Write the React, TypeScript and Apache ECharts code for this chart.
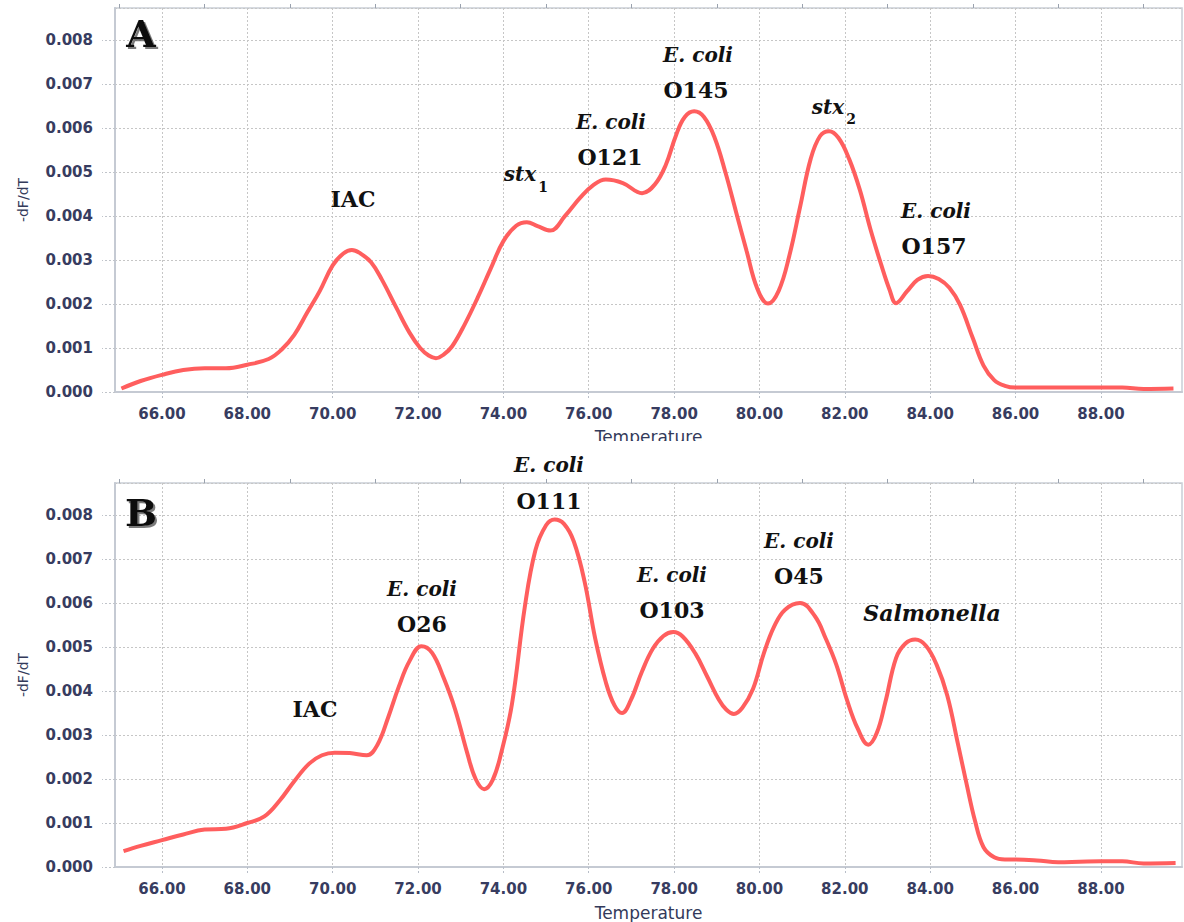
import React, { useEffect, useRef } from "react";
import * as echarts from "echarts";

// ---- Data ----
const tempA = [
  65.05, 65.5, 66.0, 66.5, 67.0, 67.5, 68.0, 68.5, 68.8, 69.1, 69.4, 69.7, 70.0, 70.25, 70.45, 70.65, 70.9,
  71.15, 71.5, 71.8, 72.05, 72.25, 72.42, 72.6, 72.8, 73.1, 73.4, 73.7, 74.0, 74.3, 74.55, 74.8, 75.1, 75.45,
  75.8, 76.1, 76.4, 76.8, 77.25, 77.55, 77.8, 78.05, 78.25, 78.47, 78.7, 78.95, 79.2, 79.45, 79.7, 79.95,
  80.2, 80.45, 80.7, 80.95, 81.2, 81.42, 81.63, 81.85, 82.1, 82.35, 82.6, 82.85, 83.05, 83.2, 83.45, 83.7,
  83.95, 84.2, 84.45, 84.7, 85.0, 85.25, 85.5, 85.75, 86.0, 86.5, 87.0, 87.5, 88.0, 88.5, 89.0, 89.7,
];
const dfdtA = [
  0.00008, 0.00025, 0.00039, 0.0005, 0.00054, 0.00054, 0.00062, 0.00075, 0.00096, 0.0013, 0.0018, 0.0023,
  0.00288, 0.00315, 0.00323, 0.00315, 0.00295, 0.00256, 0.0019, 0.00135, 0.001, 0.00083, 0.00077, 0.00085,
  0.00104, 0.00155, 0.00215, 0.0028, 0.00343, 0.00378, 0.00386, 0.00377, 0.00367, 0.00401, 0.00442, 0.0047,
  0.00483, 0.00475, 0.00452, 0.00472, 0.00515, 0.00585, 0.00625, 0.00638, 0.00625, 0.00578, 0.005, 0.0041,
  0.0032, 0.00235, 0.00201, 0.0023, 0.0031, 0.0042, 0.0053, 0.00582, 0.00593, 0.00578, 0.0053, 0.0046,
  0.0037, 0.0029, 0.00232, 0.00202, 0.00228, 0.00255, 0.00264, 0.00257, 0.00237, 0.00198, 0.00122, 0.0006,
  0.00027, 0.00014, 0.0001, 0.0001, 0.0001, 0.0001, 0.0001, 0.0001, 0.00007, 0.00008,
];
const tempB = [
  65.1, 65.5, 66.0, 66.5, 67.0, 67.5, 68.0, 68.4, 68.75, 69.1, 69.45, 69.75, 70.05, 70.4, 70.8, 71.05, 71.3,
  71.55, 71.8, 72.08, 72.33, 72.6, 72.87, 73.15, 73.35, 73.55, 73.75, 73.95, 74.2, 74.5, 74.75, 75.0, 75.2,
  75.42, 75.65, 75.9, 76.15, 76.4, 76.6, 76.78, 76.98, 77.25, 77.5, 77.75, 77.98, 78.2, 78.5, 78.78, 79.05,
  79.22, 79.4, 79.6, 79.85, 80.1, 80.35, 80.6, 80.95, 81.3, 81.55, 81.8, 82.05, 82.3, 82.55, 82.75, 82.95,
  83.2, 83.42, 83.65, 83.9, 84.15, 84.4, 84.65, 84.85, 85.05, 85.25, 85.5, 85.75, 86.0, 86.5, 87.0, 87.5,
  88.0, 88.5, 89.0, 89.75,
];
const dfdtB = [
  0.00036, 0.00048, 0.00061, 0.00074, 0.00085, 0.00087, 0.001, 0.00115, 0.0015, 0.00195, 0.00235, 0.00254,
  0.0026, 0.00259, 0.00254, 0.00278, 0.0034, 0.0041, 0.00468, 0.00502, 0.00487, 0.0043, 0.00358, 0.0026,
  0.002, 0.00177, 0.00198, 0.0026, 0.0037, 0.0059, 0.0072, 0.00777, 0.0079, 0.0078, 0.0074, 0.0065, 0.0052,
  0.0042, 0.00368, 0.0035, 0.00378, 0.00445, 0.00496, 0.00525, 0.00534, 0.00524, 0.00485, 0.00432, 0.0038,
  0.00358, 0.00348, 0.00362, 0.00405, 0.00485, 0.00548, 0.00585, 0.006, 0.0057, 0.0052, 0.0046, 0.0038,
  0.00315, 0.00278, 0.00305, 0.00375, 0.00475, 0.00508, 0.00517, 0.00503, 0.0046, 0.0039, 0.0028, 0.0019,
  0.00105, 0.00045, 0.00022, 0.00017, 0.00017, 0.00015, 0.00011, 0.00012, 0.00013, 0.00013, 0.00008, 0.00009,
];

const xLabelValues = [66, 68, 70, 72, 74, 76, 78, 80, 82, 84, 86, 88];
const xMinorValues = [65, 67, 69, 71, 73, 75, 77, 79, 81, 83, 85, 87, 89];
const xMin = 64.9;
const xMax = 89.9;
const yMin = 0;
const yMax = 0.00873;
const yStep = 0.001;

const panelLetters = ["A", "B"];
const axisNames = { x: "Temperature", y: "-dF/dT" };

// annotation texts: [text, style kind]
const notesA: [string, string][] = [
  ["IAC", "bold"], ["stx", "italic"], ["1", "sub"],
  ["E. coli", "italic"], ["O121", "bold"],
  ["E. coli", "italic"], ["O145", "bold"],
  ["stx", "italic"], ["2", "sub"],
  ["E. coli", "italic"], ["O157", "bold"],
];
const notesB: [string, string][] = [
  ["IAC", "bold"],
  ["E. coli", "italic"], ["O26", "bold"],
  ["E. coli", "italic"], ["O111", "bold"],
  ["E. coli", "italic"], ["O103", "bold"],
  ["E. coli", "italic"], ["O45", "bold"],
  ["Salmonella", "italicBig"],
];

// ---- Layout ----
const notePosA = [
  [353, 199], [520, 174], [543, 187],
  [611, 122], [610, 157],
  [698, 55], [696, 90],
  [828, 107], [851, 119],
  [936, 211], [934, 246],
];
const notePosB = [
  [315, 709],
  [422, 589], [422, 624],
  [549, 465], [549, 501],
  [672, 575], [672, 610],
  [799, 541], [799, 576],
  [932, 613],
];
const gridLeft = 115;
const gridWidth = 1067;
const gridHeight = 384;
const gridTops = [8, 483];
const letterPos = [[141, 33], [141, 512]];

const sansFont = "'DejaVu Sans', Verdana, sans-serif";
const serifFont = "'DejaVu Serif', serif";
const labelColor = "#373c60";
const lineColor = "#ff5e5e";

function noteStyle(kind: string) {
  if (kind === "italic") return { fontSize: 20, fontStyle: "italic", fontWeight: "bold" };
  if (kind === "italicBig") return { fontSize: 22, fontStyle: "italic", fontWeight: "bold" };
  if (kind === "sub") return { fontSize: 14, fontStyle: "normal", fontWeight: "bold" };
  return { fontSize: 22, fontStyle: "normal", fontWeight: "bold" };
}

function buildNotes(notes: [string, string][], pos: number[][]) {
  return notes.map(([text, kind], i) => ({
    type: "text",
    x: pos[i][0],
    y: pos[i][1],
    z: 100,
    style: {
      text,
      fill: "#111",
      fontFamily: serifFont,
      align: "center",
      verticalAlign: "middle",
      ...noteStyle(kind),
    },
  }));
}

export default function App() {
  const ref = useRef<HTMLDivElement>(null);

  useEffect(() => {
    if (!ref.current) return;
    const chart = echarts.init(ref.current, undefined, { renderer: "svg" });

    const grids = gridTops.map((top) => ({
      left: gridLeft,
      top,
      width: gridWidth,
      height: gridHeight,
      show: true,
      borderColor: "#c9ced6",
      borderWidth: 1.5,
      backgroundColor: "#fff",
      containLabel: false,
    }));

    const xAxes: any[] = [];
    const yAxes: any[] = [];
    gridTops.forEach((_, g) => {
      xAxes.push({
        type: "value",
        gridIndex: g,
        min: xMin,
        max: xMax,
        splitNumber: 12,
        axisLine: { show: true, onZero: false, lineStyle: { color: "#c5cad3", width: 2 } },
        axisTick: {
          show: true,
          length: 7,
          customValues: xLabelValues,
          lineStyle: { color: "#b8bec8", type: [2, 2] },
        },
        splitLine: { show: true, lineStyle: { color: "#c6c6c6", type: [2, 2] } },
        axisLabel: {
          customValues: xLabelValues,
          formatter: (v: number) => v.toFixed(2),
          fontFamily: sansFont,
          fontSize: 15,
          fontWeight: "bold",
          color: labelColor,
          margin: 14,
        },
        name: axisNames.x,
        nameLocation: "middle",
        nameGap: g === 0 ? 36 : 37,
        nameTextStyle: { fontFamily: sansFont, fontSize: 17, color: "#333a5a" },
      });
      xAxes.push({
        type: "value",
        gridIndex: g,
        min: xMin,
        max: xMax,
        axisLine: { show: false, onZero: false },
        axisTick: {
          show: true,
          length: 4,
          customValues: xMinorValues,
          lineStyle: { color: "#9aa2ae", width: 1 },
        },
        axisLabel: { show: false },
        splitLine: { show: false },
      });
      yAxes.push({
        type: "value",
        gridIndex: g,
        min: yMin,
        max: yMax,
        interval: yStep,
        axisLine: { show: true, lineStyle: { color: "#c5cad3", width: 2 } },
        axisTick: { show: true, length: 13, lineStyle: { color: "#c0c4ca", type: [2, 2] } },
        splitLine: { show: true, lineStyle: { color: "#c6c6c6", type: [2, 2] } },
        axisLabel: {
          showMaxLabel: false,
          formatter: (v: number) => v.toFixed(3),
          fontFamily: sansFont,
          fontSize: 15,
          fontWeight: "bold",
          color: labelColor,
          margin: 22,
        },
        name: axisNames.y,
        nameLocation: "middle",
        nameGap: 85,
        nameTextStyle: { fontFamily: sansFont, fontSize: 14, color: "#333a5a" },
      });
    });

    const series = [
      { t: tempA, v: dfdtA },
      { t: tempB, v: dfdtB },
    ].map((s, g) => ({
      type: "line",
      xAxisIndex: g * 2,
      yAxisIndex: g,
      data: s.t.map((t, i) => [t, s.v[i]]),
      smooth: 0.4,
      showSymbol: false,
      lineStyle: { color: lineColor, width: 4 },
      itemStyle: { color: lineColor },
      z: 5,
    }));

    const letters = panelLetters.map((txt, i) => ({
      type: "text",
      x: letterPos[i][0],
      y: letterPos[i][1],
      z: 100,
      style: {
        text: txt,
        fill: "#111",
        fontFamily: serifFont,
        fontWeight: "bold",
        fontSize: 38,
        align: "center",
        verticalAlign: "middle",
        textShadowColor: "rgba(90,90,90,0.8)",
        textShadowOffsetX: 2,
        textShadowOffsetY: 2,
        textShadowBlur: 1,
      },
    }));

    // white strip that trims the lower edge of panel A's axis title, as in the reference
    const trim = {
      type: "rect",
      z: 120,
      shape: { x: 560, y: 441, width: 180, height: 12 },
      style: { fill: "#fff" },
    };

    chart.setOption({
      animation: false,
      backgroundColor: "#fff",
      grid: grids,
      xAxis: xAxes,
      yAxis: yAxes,
      series,
      graphic: [...letters, ...buildNotes(notesA, notePosA), ...buildNotes(notesB, notePosB), trim],
    });

    return () => chart.dispose();
  }, []);

  return (
    <div
      ref={ref}
      style={{ position: "absolute", left: 0, top: 0, width: 1184, height: 922, background: "#fff" }}
    />
  );
}
